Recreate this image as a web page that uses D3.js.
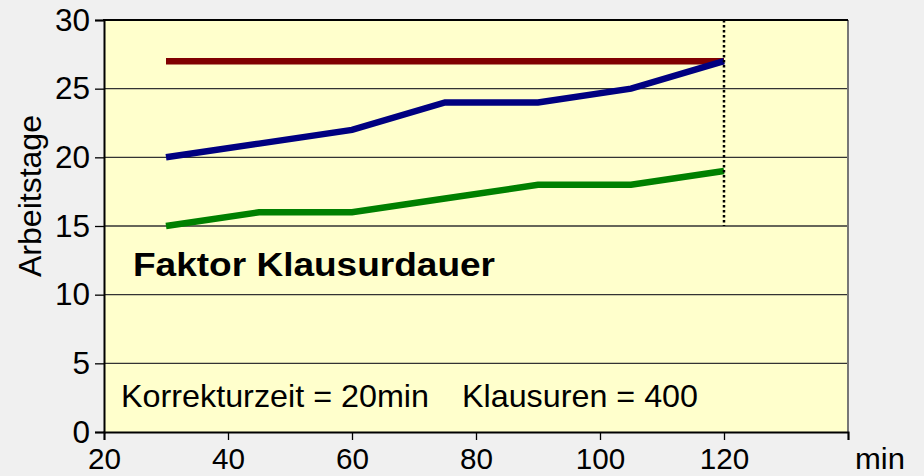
<!DOCTYPE html>
<html><head><meta charset="utf-8">
<script src="https://cdn.jsdelivr.net/npm/d3@7"></script>
<style>
html,body{margin:0;padding:0;background:#f0f0f0;}
svg{display:block;font-family:"Liberation Sans",Arial,sans-serif;}
</style></head>
<body>
<svg id="c" width="924" height="476"></svg>
<script>
const minutes = [30, 45, 60, 75, 90, 105, 120];
const seriesRed = [27, 27, 27, 27, 27, 27, 27];
const seriesBlue = [20, 21, 22, 24, 24, 25, 27];
const seriesGreen = [15, 16, 16, 17, 18, 18, 19];
const xTicks = [20, 40, 60, 80, 100, 120, 140];
const yTicks = [0, 5, 10, 15, 20, 25, 30];
const markerX = 120, markerFrom = 15, markerTo = 30;

const svg = d3.select("#c");
const L = 104, R = 848, T = 20, B = 432;
const x = d3.scaleLinear().domain([20, 140]).range([L, R]);
const y = d3.scaleLinear().domain([0, 30]).range([B, T]);
const FS = 31.5;
const FSX = 30;

svg.append("rect").attr("width", 924).attr("height", 476).attr("fill", "#f0f0f0");
svg.append("rect").attr("x", L).attr("y", T).attr("width", R - L).attr("height", B - T).attr("fill", "#ffffcc");

// grid
svg.append("g").selectAll("line").data(yTicks.filter(d => d > 0 && d < 30)).join("line")
  .attr("x1", L).attr("x2", R).attr("y1", d => y(d)).attr("y2", d => y(d))
  .attr("stroke", "#333").attr("stroke-width", 1.3);

// borders
svg.append("line").attr("x1", R).attr("x2", R).attr("y1", T).attr("y2", B).attr("stroke", "#777").attr("stroke-width", 2);
svg.append("line").attr("x1", L - 1).attr("x2", R).attr("y1", T).attr("y2", T).attr("stroke", "#000").attr("stroke-width", 2);

// axes
const yAxis = d3.axisLeft(y).tickValues(yTicks).tickSize(9).tickPadding(5);
const gy = svg.append("g").attr("transform", `translate(${L},0)`).call(yAxis);
gy.select(".domain").attr("stroke", "#000").attr("stroke-width", 2);
gy.selectAll(".tick line").attr("stroke", "#000").attr("stroke-width", 1.3);
gy.selectAll(".tick text").attr("font-size", FS).attr("fill", "#000").attr("font-family", "Liberation Sans, Arial, sans-serif");

const xAxis = d3.axisBottom(x).tickValues(xTicks).tickSize(8).tickPadding(6);
const gx = svg.append("g").attr("transform", `translate(0,${B})`).call(xAxis);
gx.select(".domain").attr("stroke", "#000").attr("stroke-width", 2);
gx.selectAll(".tick line").attr("stroke", "#000").attr("stroke-width", 1.3);
gx.selectAll(".tick text").attr("font-size", FSX).attr("fill", "#000").attr("font-family", "Liberation Sans, Arial, sans-serif")
  .attr("dy", null).attr("y", 37)
  .attr("textLength", d => String(d).length * 16.5).attr("lengthAdjust", "spacingAndGlyphs");
gx.selectAll(".tick").filter(d => d === 140).select("text").text("");

svg.append("text").attr("x", 880).attr("y", 469).attr("text-anchor", "middle")
  .attr("font-size", FSX).attr("textLength", 50).attr("lengthAdjust", "spacingAndGlyphs").text("min");
svg.append("text").attr("transform", "translate(41,196) rotate(-90)").attr("text-anchor", "middle")
  .attr("font-size", FS).attr("textLength", 162).attr("lengthAdjust", "spacingAndGlyphs").text("Arbeitstage");

// lines
const line = vals => d3.line().x((d, i) => x(minutes[i])).y(d => y(d))(vals);
[[seriesRed, "#800000"], [seriesBlue, "#000080"], [seriesGreen, "#008000"]].forEach(([v, c]) => {
  svg.append("path").attr("d", line(v)).attr("fill", "none").attr("stroke", c).attr("stroke-width", 6.5);
});

// dotted marker
svg.append("line").attr("x1", x(markerX)).attr("x2", x(markerX)).attr("y1", y(markerTo)).attr("y2", y(markerFrom))
  .attr("stroke", "#000").attr("stroke-width", 2.5).attr("stroke-dasharray", "2.5,2.5");

// texts
svg.append("text").attr("x", 133).attr("y", 276).attr("font-size", 33).attr("font-weight", "bold")
  .attr("textLength", 362).attr("lengthAdjust", "spacingAndGlyphs").text("Faktor Klausurdauer");
svg.append("text").attr("x", 121).attr("y", 407).attr("font-size", FS)
  .attr("textLength", 308).attr("lengthAdjust", "spacingAndGlyphs").text("Korrekturzeit = 20min");
svg.append("text").attr("x", 462).attr("y", 407).attr("font-size", FS)
  .attr("textLength", 236).attr("lengthAdjust", "spacingAndGlyphs").text("Klausuren = 400");
</script>
</body></html>
